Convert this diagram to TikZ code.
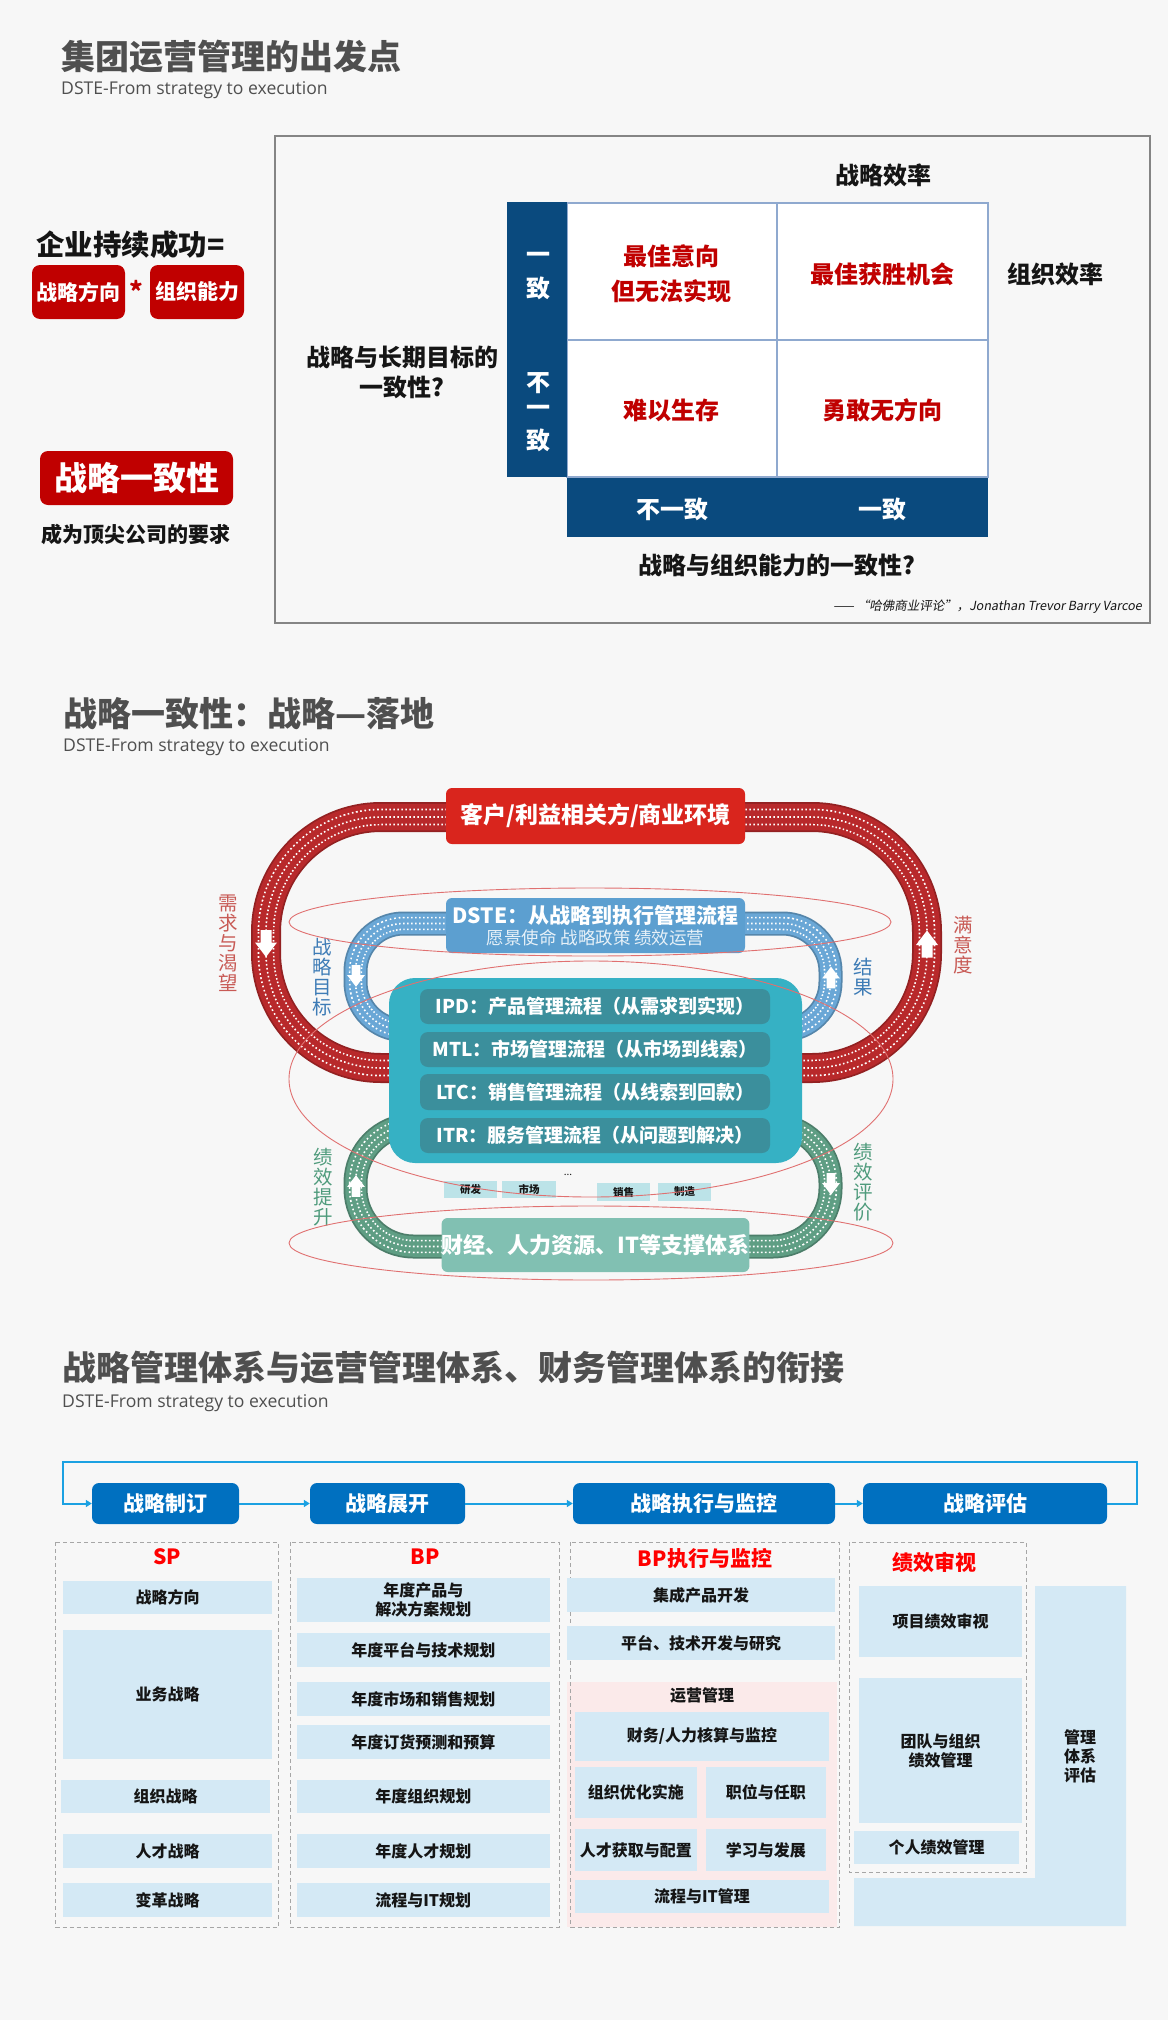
\documentclass[tikz,border=0pt]{standalone}
\usepackage{fontspec}
\setmainfont{Noto Sans CJK SC}
\newfontfamily\latinf{Open Sans}
\newfontfamily\cjkit{Noto Sans CJK SC}[FakeSlant=0.18]
\usetikzlibrary{arrows.meta}
\newcommand\myfs[2]{\fontsize{#1}{#2}\selectfont}
\definecolor{bg}{HTML}{F7F7F7}
\definecolor{titlegray}{HTML}{4F4F4F}
\definecolor{ink}{HTML}{151515}
\definecolor{dkred}{HTML}{C00000}
\definecolor{navy}{HTML}{0A4A7E}
\definecolor{gridc}{HTML}{8FA9CF}
\definecolor{framec}{HTML}{858585}
\definecolor{redband}{HTML}{B8292B}
\definecolor{custred}{HTML}{D9251D}
\definecolor{blueband}{HTML}{6AA7D6}
\definecolor{dsteblue}{HTML}{5C9FD0}
\definecolor{cyanbox}{HTML}{36B1C4}
\definecolor{rowteal}{HTML}{3B8F9C}
\definecolor{greenband}{HTML}{5F9E84}
\definecolor{greenbox}{HTML}{81C0B2}
\definecolor{smallbox}{HTML}{BCE3E8}
\definecolor{ellc}{HTML}{E07070}
\definecolor{labred}{HTML}{C85A55}
\definecolor{labblue}{HTML}{3E7CB6}
\definecolor{labgreen}{HTML}{4F9B7C}
\definecolor{hdrblue}{HTML}{0070C0}
\definecolor{linec}{HTML}{1BA1E2}
\definecolor{lb}{HTML}{D4E9F5}
\definecolor{pinkbg}{HTML}{FBEAEA}
\definecolor{dashc}{HTML}{A6A6A6}
\definecolor{hred}{HTML}{FF0000}
% box by corners: style, name, x1, y1, x2, y2, text
\newcommand\placebox[7]{\node[#1, minimum width={#5-#3}, minimum height={#6-#4}] (#2) at ({(#3+#5)/2},{(#4+#6)/2}) {#7};}
% band: colour, width, corner radius, path
\newcommand\band[4]{%
  \draw[#1!80!black, line width=#2, rounded corners=#3] #4;
  \draw[#1, line width={#2-3.5}, rounded corners=#3] #4;
  \draw[white, line width={#2*0.56}, dash pattern=on 1.6pt off 2.4pt, rounded corners=#3] #4;
  \draw[#1, line width={#2*0.56-3.4}, rounded corners=#3] #4;
  \draw[white, line width=1.6, dash pattern=on 1.6pt off 2.4pt, rounded corners=#3] #4;}
\begin{document}
\begin{tikzpicture}[x=1pt,y=-1pt,
  ttl/.style={anchor=west, inner sep=0, text=titlegray, font=\myfs{34}{36}\bfseries},
  sub/.style={anchor=west, inner sep=0, text=titlegray, font=\latinf\myfs{17.6}{19}},
  redbox/.style={fill=dkred, rounded corners=8, text=white, inner sep=0},
  cell/.style={fill=white, draw=gridc, line width=1.3, inner sep=0},
  navybar/.style={fill=navy, inner sep=0},
  mtxt/.style={inner sep=0, text=ink, font=\myfs{24}{30}\bfseries},
  wtxt/.style={inner sep=0, text=white, font=\myfs{24}{30}\bfseries},
  rtxt/.style={inner sep=0, text=dkred, font=\myfs{24}{35}\bfseries},
  bigbox/.style={rounded corners=6, inner sep=0, text=white},
  rowbox/.style={fill=rowteal, rounded corners=8, inner sep=0, text=white, font=\myfs{19}{20}\bfseries},
  smb/.style={fill=smallbox, inner sep=0, text=ink, font=\myfs{10.5}{11}\bfseries},
  vlab/.style={inner sep=0, align=center, font=\myfs{19.5}{20}},
  ell/.style={draw=ellc, line width=0.9},
  barrow/.pic={\fill[white] (-5.5,-13.5) -- (5.5,-13.5) -- (5.5,-1) -- (11,-1) -- (0,13.5) -- (-11,-1) -- (-5.5,-1) -- cycle;},
  hdr/.style={fill=hdrblue, rounded corners=7, inner sep=0, text=white, font=\myfs{21}{21}\bfseries},
  flow/.style={draw=linec, line width=2, -{Triangle[length=6,width=7]}},
  lbx/.style={fill=lb, inner sep=0, text=ink, align=center, font=\myfs{16}{19}\bfseries},
  colhead/.style={inner sep=0, text=hred, font=\myfs{21}{22}\bfseries},
  dcol/.style={draw=dashc, line width=1, dash pattern=on 4pt off 3pt}
]
\fill[bg] (0,0) rectangle (1168,2020);
\useasboundingbox (0,0) rectangle (1168,2020);

%================ Section 1 ================
\node[ttl] (t1) at (61,57) {集团运营管理的出发点};
\node[sub] (st1) at (61,90) {DSTE-From strategy to execution};

\node[anchor=west, inner sep=0, text=ink, font=\myfs{28.5}{30}\bfseries] (succ) at (36,245) {企业持续成功=};
\placebox{redbox, font=\myfs{21}{21}\bfseries}{dir}{32}{265}{125}{319}{战略方向}
\node[inner sep=0, text=dkred, font=\myfs{26}{26}\bfseries] (star) at (136,291) {*};
\placebox{redbox, font=\myfs{21}{21}\bfseries}{org}{150}{265}{244}{319}{组织能力}
\placebox{redbox, font=\myfs{33}{33}\bfseries}{cons}{40}{451}{233}{505}{战略一致性}
\node[inner sep=0, text=ink, font=\myfs{21}{21}\bfseries] (req) at (135.5,534) {成为顶尖公司的要求};

\draw[framec, line width=1.5] (275,136) rectangle (1150,623);
\placebox{cell}{c11}{567}{203}{777}{340}{}
\placebox{cell}{c12}{777}{203}{988}{340}{}
\placebox{cell}{c21}{567}{340}{777}{477}{}
\placebox{cell}{c22}{777}{340}{988}{477}{}
\placebox{navybar}{vbar}{507}{202}{567}{477}{}
\placebox{navybar}{hbar}{567}{478}{988}{537}{}

\node[mtxt] (eff1) at (883,175) {战略效率};
\node[mtxt] (eff2) at (1055,274) {组织效率};
\node[mtxt, align=center] (q1) at (402,372) {战略与长期目标的\\一致性?};
\node[wtxt] (v1) at (538,258) {一};
\node[wtxt] (v2) at (538,288) {致};
\node[wtxt] (v3) at (538,383) {不};
\node[wtxt] (v4) at (538,411) {一};
\node[wtxt] (v5) at (538,440) {致};
\node[rtxt, align=center] (ct11) at (671,274) {最佳意向\\但无法实现};
\node[rtxt] (ct12) at (882,274) {最佳获胜机会};
\node[rtxt] (ct21) at (671,410) {难以生存};
\node[rtxt] (ct22) at (882,410) {勇敢无方向};
\node[wtxt] (h1) at (672,509) {不一致};
\node[wtxt] (h2) at (882,509) {一致};
\node[mtxt] (q2) at (777,565) {战略与组织能力的一致性?};
\node[anchor=east, inner sep=0, text=ink, font=\cjkit\myfs{12.5}{13}] (cite) at (1142,607) {—— “哈佛商业评论”，Jonathan Trevor Barry Varcoe};

%================ Section 2 ================
\node[ttl] (t2) at (63,714) {战略一致性：战略—落地};
\node[sub] (st2) at (63,747) {DSTE-From strategy to execution};

\band{redband}{30}{115}{(266,817) rectangle (927,1068)}
\band{blueband}{24}{48}{(355.5,923.5) rectangle (830.5,1030)}
\band{greenband}{24}{58}{(355.5,1125) rectangle (830.5,1246.5)}

\placebox{bigbox, fill=custred, font=\myfs{23}{24}\bfseries}{cust}{446}{788}{745}{844}{客户/利益相关方/商业环境}
\placebox{bigbox, fill=dsteblue}{dste}{446}{898}{745}{953}{}
\node[inner sep=0, text=white, font=\myfs{21}{22}\bfseries] (dste1) at (595.5,915) {DSTE：从战略到执行管理流程};
\node[inner sep=0, text=white!85!dsteblue, font=\myfs{17.5}{18}] (dste2) at (595.5,938) {愿景使命 战略政策 绩效运营};
\placebox{bigbox, fill=cyanbox, rounded corners=26}{core}{389}{978}{802}{1163}{}
\placebox{rowbox}{ipd}{420}{989}{770}{1024}{IPD：产品管理流程（从需求到实现）}
\placebox{rowbox}{mtl}{420}{1032}{770}{1067}{MTL：市场管理流程（从市场到线索）}
\placebox{rowbox}{ltc}{420}{1074}{770}{1110}{LTC：销售管理流程（从线索到回款）}
\placebox{rowbox}{itr}{420}{1118}{770}{1153}{ITR：服务管理流程（从问题到解决）}
\placebox{smb}{rd}{444}{1181}{497}{1198}{研发}
\placebox{smb}{mk}{502}{1181}{556}{1198}{市场}
\node[inner sep=0, text=ink, font=\myfs{10}{10}] (dots) at (568,1175) {...};
\placebox{smb}{sl}{597}{1183}{650}{1201}{销售}
\placebox{smb}{mf}{658}{1183}{711}{1201}{制造}
\placebox{bigbox, fill=greenbox, font=\myfs{22}{23}\bfseries}{supp}{446}{1218}{745}{1272}{财经、人力资源、IT等支撑体系}

\pic at (266,943.5) {barrow};
\pic[rotate=180] at (927,944) {barrow};
\pic[scale=0.8] at (356,976) {barrow};
\pic[rotate=180,scale=0.8] at (831,977.5) {barrow};
\pic[rotate=180,scale=0.8] at (356,1186) {barrow};
\pic[scale=0.8] at (831,1184) {barrow};

\node[vlab, text=labred] (need) at (228,943) {需\\求\\与\\渴\\望};
\node[vlab, text=labblue] (goal) at (322,977.5) {战\\略\\目\\标};
\node[vlab, text=labblue] (res) at (863,977) {结\\果};
\node[vlab, text=labred] (sat) at (963,945) {满\\意\\度};
\node[vlab, text=labgreen] (imp) at (323,1187) {绩\\效\\提\\升};
\node[vlab, text=labgreen] (eva) at (863,1182) {绩\\效\\评\\价};

\draw[ell] (590,922) ellipse [x radius=301, y radius=34];
\draw[ell] (591,1079) ellipse [x radius=302, y radius=118];
\draw[ell] (591,1243) ellipse [x radius=302, y radius=37];

%================ Section 3 ================
\node[ttl] (t3) at (62,1368) {战略管理体系与运营管理体系、财务管理体系的衔接};
\node[sub] (st3) at (62,1403) {DSTE-From strategy to execution};

\placebox{hdr}{s1}{92}{1483}{239}{1524}{战略制订}
\placebox{hdr}{s2}{310}{1483}{465}{1524}{战略展开}
\placebox{hdr}{s3}{573}{1483}{835}{1524}{战略执行与监控}
\placebox{hdr}{s4}{863}{1483}{1107}{1524}{战略评估}
\coordinate (topR) at (1137,1462);
\coordinate (topL) at (63,1462);
\draw[flow] (s1.east) -- (s2.west);
\draw[flow] (s2.east) -- (s3.west);
\draw[flow] (s3.east) -- (s4.west);
\draw[flow] (s4.east) -| (topR) -- (topL) |- (s1.west);

\fill[pinkbg] (567,1682) rectangle (836.5,1927);
\draw[dcol] (55.5,1542) rectangle (278,1927);
\draw[dcol] (290,1542) rectangle (559,1927);
\draw[dcol] (570.5,1542) rectangle (839,1927);
\draw[dcol] (849,1542) rectangle (1026.5,1872);

\node[colhead] (sp) at (167,1557) {SP};
\node[colhead] (bp) at (425,1557) {BP};
\node[colhead] (bpx) at (705,1559) {BP执行与监控};
\node[colhead] (pr) at (934,1562) {绩效审视};

\placebox{lbx}{b11}{63}{1581}{272}{1614}{战略方向}
\placebox{lbx}{b12}{63}{1630}{272}{1759}{业务战略}
\placebox{lbx}{b13}{61}{1780}{270}{1813}{组织战略}
\placebox{lbx}{b14}{63}{1834}{272}{1868}{人才战略}
\placebox{lbx}{b15}{63}{1883}{272}{1917}{变革战略}

\placebox{lbx}{b21}{296.5}{1578}{550}{1622}{年度产品与\\解决方案规划}
\placebox{lbx}{b22}{296.5}{1633}{550}{1667}{年度平台与技术规划}
\placebox{lbx}{b23}{296.5}{1682}{550}{1716}{年度市场和销售规划}
\placebox{lbx}{b24}{296.5}{1725}{550}{1759}{年度订货预测和预算}
\placebox{lbx}{b25}{296.5}{1780}{550}{1813}{年度组织规划}
\placebox{lbx}{b26}{296.5}{1834}{550}{1868}{年度人才规划}
\placebox{lbx}{b27}{296.5}{1883}{550}{1917}{流程与IT规划}

\placebox{lbx}{b31}{567}{1578}{835}{1612}{集成产品开发}
\placebox{lbx}{b32}{567}{1626}{835}{1660}{平台、技术开发与研究}
\node[inner sep=0, text=ink, font=\myfs{16}{19}\bfseries] (opm) at (702,1695) {运营管理};
\placebox{lbx}{b33}{575}{1712}{829}{1761}{财务/人力核算与监控}
\placebox{lbx}{b34}{575}{1767}{696.5}{1818}{组织优化实施}
\placebox{lbx}{b35}{705.6}{1767}{826}{1818}{职位与任职}
\placebox{lbx}{b36}{575}{1829}{696.5}{1871}{人才获取与配置}
\placebox{lbx}{b37}{705.6}{1829}{826}{1871}{学习与发展}
\placebox{lbx}{b38}{575}{1880}{829}{1913}{流程与IT管理}

\placebox{lbx}{b41}{859}{1586}{1022}{1657}{项目绩效审视}
\placebox{lbx}{b42}{859}{1678}{1022}{1823}{团队与组织\\绩效管理}
\placebox{lbx}{b43}{854}{1831}{1019}{1864}{个人绩效管理}
\fill[lb] (1035,1586) -- (1126,1586) -- (1126,1926) -- (854,1926) -- (854,1878) -- (1035,1878) -- cycle;
\node[inner sep=0, align=center, text=ink, font=\myfs{16}{19}\bfseries] (mse) at (1080,1756) {管理\\体系\\评估};
\end{tikzpicture}
\end{document}
